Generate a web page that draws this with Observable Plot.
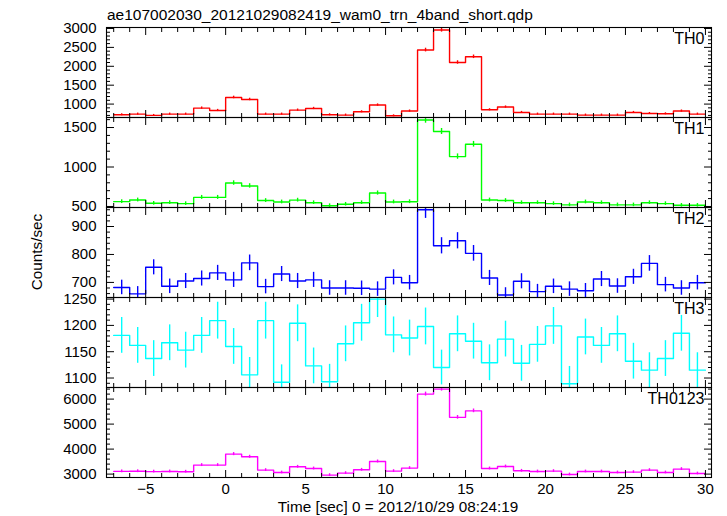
<!DOCTYPE html>
<html><head><meta charset="utf-8">
<script src="https://cdn.jsdelivr.net/npm/d3@7"></script>
<script src="https://cdn.jsdelivr.net/npm/@observablehq/plot@0.6"></script>
<style>
body{margin:0;background:#fff;}
#c{position:relative;width:727px;height:516px;font-family:"Liberation Sans",Arial,Helvetica,sans-serif;color:#000;overflow:hidden;background:#fff}
.abs{position:absolute;white-space:nowrap}
</style></head><body><div id="c"></div>
<script>
// ---- data (1-s bins, start times in seconds) ----
const binStart = [-7,-6,-5,-4,-3,-2,-1,0,1,2,3,4,5,6,7,8,9,10,11,12,13,14,15,16,17,18,19,20,21,22,23,24,25,26,27,28,29];
const binWidth = 1;

const th0 = [717,735,700,735,735,894,831,1175,1122,735,735,841,884,717,709,796,974,690,815,2429,2958,2100,2251,849,921,778,735,735,735,709,709,709,778,751,743,815,735];
const th0Err = [27,27,26,27,27,30,29,34,33,27,27,29,30,27,27,28,31,26,29,49,54,46,47,29,30,28,27,27,27,27,27,27,28,27,27,29,27];

const th1 = [561,582,540,548,536,615,615,797,760,575,557,580,548,510,528,548,670,557,560,1595,1450,1132,1288,582,575,548,548,536,520,557,548,520,520,548,536,515,515];
const th1Err = [24,24,23,23,23,25,25,28,28,24,24,24,23,23,23,23,26,24,24,40,38,34,36,24,24,23,23,23,23,24,23,23,23,23,23,23,23];

const th2 = [682,659,754,686,705,714,734,709,770,685,730,705,709,680,680,679,676,718,699,960,831,849,804,716,655,704,667,686,676,670,712,687,720,768,692,680,699];
const th2Err = [26,26,27,26,27,27,27,27,28,26,27,27,27,26,26,26,26,27,26,31,29,29,28,27,26,27,26,26,26,26,27,26,27,28,26,26,26];

const th3 = [1181,1162,1137,1167,1153,1181,1209,1160,1106,1209,1092,1204,1123,1093,1165,1205,1250,1182,1176,1198,1120,1184,1170,1129,1174,1128,1164,1199,1089,1178,1162,1184,1132,1115,1137,1185,1115];
const th3Err = [34,34,34,34,34,34,35,34,33,35,33,35,34,33,34,35,35,34,34,35,33,34,34,34,34,34,34,35,33,34,34,34,34,33,34,34,33];

const th0123 = [3110,3115,3100,3105,3095,3360,3360,3800,3692,3160,3064,3292,3224,2960,3040,3172,3504,3120,3240,6200,6400,5270,5530,3224,3304,3132,3104,3120,2984,3104,3104,3064,3080,3160,3064,3200,3024];
const th0123Err = [56,56,56,56,56,58,58,62,61,56,55,57,57,54,55,56,59,56,57,79,80,73,74,57,57,56,56,56,55,56,56,55,55,56,55,57,55];

const panelNames = ["TH0","TH1","TH2","TH3","TH0123"];
const panelColors = ["#ff0000","#00ff00","#0000ff","#00ffff","#ff00ff"];
const yDomains = [[645,3026],[487,1627],[646,968],[1082,1253],[2864,6464]];
const yMajorTicks = [[1000,1500,2000,2500,3000],[500,1000,1500],[700,800,900],[1100,1150,1200,1250],[3000,4000,5000,6000]];
const yMinorStep = [100,100,20,10,200];
const xMajorTicks = [-5,0,5,10,15,20,25,30];
const xMinorTicks = [-7,-6,-4,-3,-2,-1,1,2,3,4,6,7,8,9,11,12,13,14,16,17,18,19,21,22,23,24,26,27,28,29];
const titleText = "ae107002030_20121029082419_wam0_trn_4band_short.qdp";
const xLabelText = "Time [sec] 0 = 2012/10/29 08:24:19";
const yLabelText = "Counts/sec";

const series = [[th0,th0Err],[th1,th1Err],[th2,th2Err],[th3,th3Err],[th0123,th0123Err]];

// ---- layout ----
const W = 727, ML = 106, MR = 16, PH = 90, TOP0 = 27;
const xDomain = [-7.45, 30.38];
const font = '"Liberation Sans",Arial,Helvetica,sans-serif';
const fmt = d3.format("d");
const c = document.getElementById("c");

function addDiv(text, css) {
  const d = document.createElement("div");
  d.className = "abs"; d.textContent = text;
  Object.assign(d.style, css);
  c.appendChild(d);
  return d;
}

addDiv(titleText, {left: "107px", top: "7px", fontSize: "15.5px", lineHeight: "15px"});

series.forEach(([vals, errs], i) => {
  const last = i === series.length - 1;
  const step = binStart.map((s, j) => ({x: s, y: vals[j]}))
    .concat([{x: binStart[binStart.length - 1] + binWidth, y: vals[vals.length - 1]}]);
  const pts = binStart.map((s, j) => ({xc: s + binWidth / 2, lo: vals[j] - errs[j], hi: vals[j] + errs[j]}));
  const [d0, d1] = yDomains[i];
  const st = yMinorStep[i];
  const minor = d3.range(Math.ceil(d0 / st) * st, d1, st).filter(v => !yMajorTicks[i].includes(v));
  const col = panelColors[i];
  const marks = [
    Plot.line(step, {x: "x", y: "y", curve: "step-after", stroke: col, strokeWidth: 1.4, clip: true}),
    Plot.ruleX(pts, {x: "xc", y1: "lo", y2: "hi", stroke: col, strokeWidth: 1.4, clip: true}),
    Plot.axisY({anchor: "left", ticks: yMajorTicks[i], tickSize: -8, fill: "none", label: null}),
    Plot.axisY({anchor: "left", ticks: minor, tickSize: -4, fill: "none", label: null}),
    Plot.axisY({anchor: "right", ticks: yMajorTicks[i], tickSize: -8, fill: "none", label: null}),
    Plot.axisY({anchor: "right", ticks: minor, tickSize: -4, fill: "none", label: null}),
    Plot.axisY({anchor: "left", ticks: yMajorTicks[i], tickSize: 0, tickPadding: 10, tickFormat: fmt, label: null}),
    Plot.axisX({anchor: "bottom", ticks: xMajorTicks, tickSize: -7, fill: "none", label: null}),
    Plot.axisX({anchor: "bottom", ticks: xMinorTicks, tickSize: -4, fill: "none", label: null}),
    Plot.axisX({anchor: "top", ticks: xMajorTicks, tickSize: -7, fill: "none", label: null}),
    Plot.axisX({anchor: "top", ticks: xMinorTicks, tickSize: -4, fill: "none", label: null}),
    Plot.frame({stroke: "#000", strokeWidth: 1.1}),
    Plot.text([panelNames[i]], {text: d => d, frameAnchor: "top-right", textAnchor: "end", lineAnchor: "top", dx: -7, dy: 5, fontSize: 16, fill: "#000"})
  ];
  if (last) marks.push(Plot.axisX({anchor: "bottom", ticks: xMajorTicks, tickSize: 0, tickPadding: 6, tickFormat: fmt, label: null}));
  const svg = Plot.plot({
    width: W,
    height: 1 + PH + (last ? 39 : 1),
    marginLeft: ML, marginRight: MR, marginTop: 1, marginBottom: last ? 39 : 1,
    x: {domain: xDomain},
    y: {domain: yDomains[i]},
    style: {fontFamily: font, fontSize: "15px", background: "transparent", overflow: "visible", color: "#000"},
    marks
  });
  svg.style.position = "absolute";
  svg.style.left = "0px";
  svg.style.top = (TOP0 + i * PH - 1) + "px";
  c.appendChild(svg);
});

addDiv(xLabelText, {left: "198px", width: "400px", textAlign: "center", top: "499px", fontSize: "15.3px", lineHeight: "15px"});
addDiv(yLabelText, {left: "-63px", width: "200px", textAlign: "center", top: "244px", height: "16px", fontSize: "15.3px", lineHeight: "16px", transform: "rotate(-90deg)"});
</script>
</body></html>
